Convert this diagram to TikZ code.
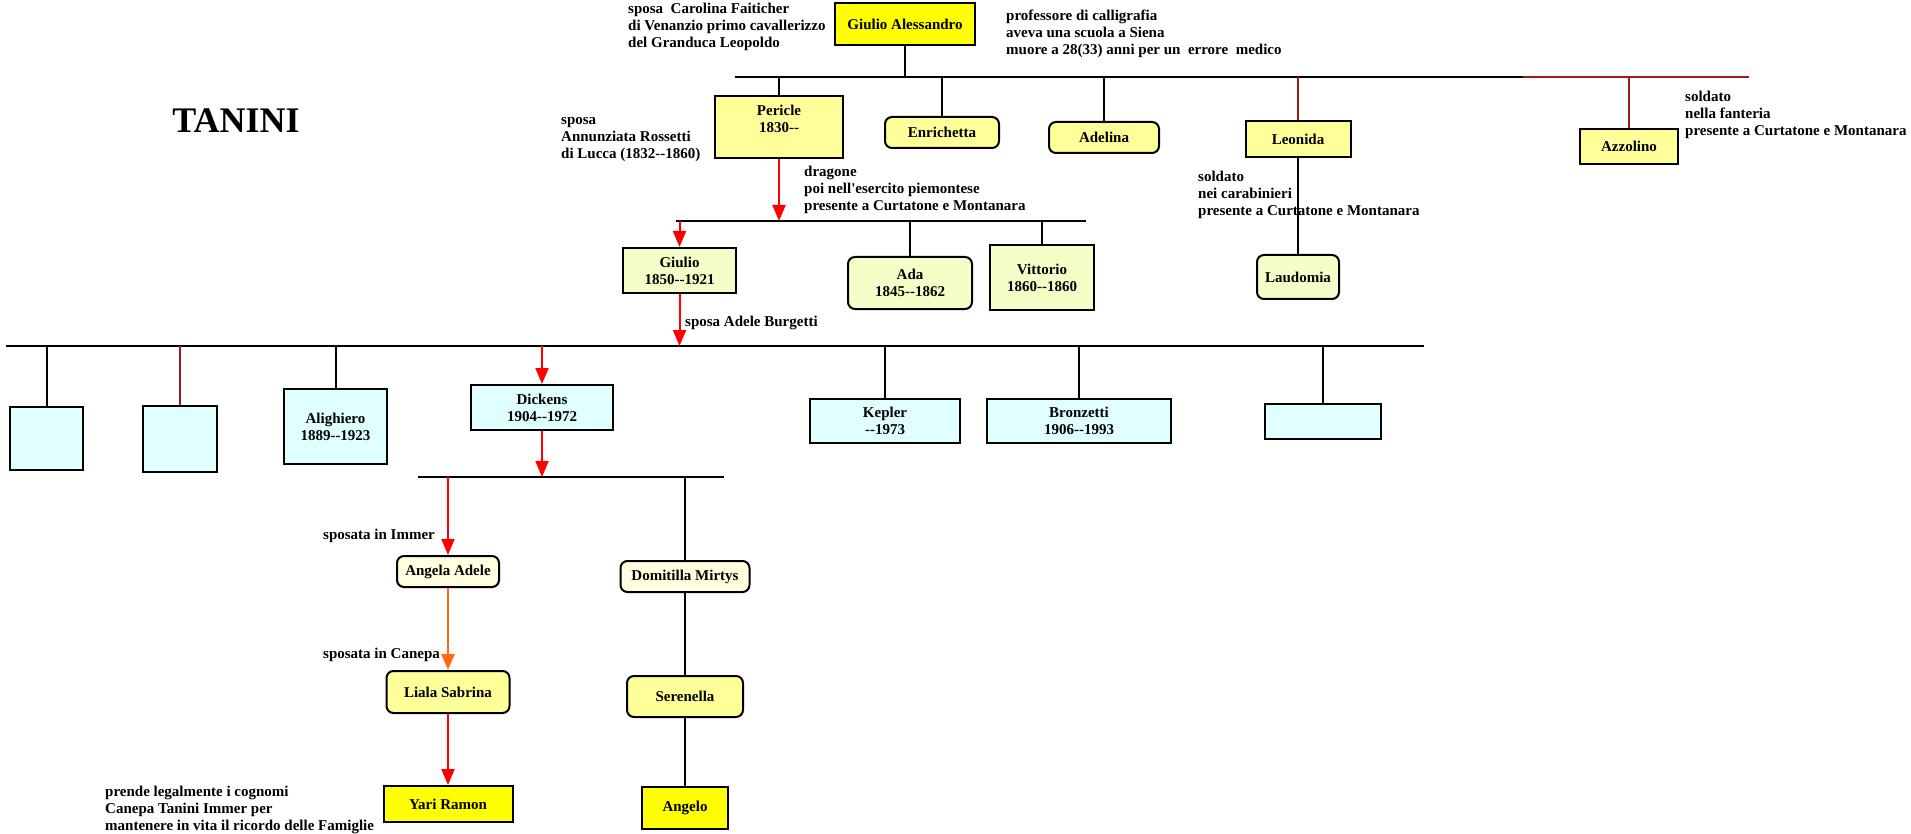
\documentclass[tikz,border=0pt]{standalone}
\usepackage{fontspec}
\setmainfont{Liberation Serif}
\usepackage{tikz}
\usetikzlibrary{arrows.meta, positioning}

\definecolor{gold}{HTML}{FFFF00}
\definecolor{cream}{HTML}{FFFF99}
\definecolor{lime}{HTML}{F4FFC8}
\definecolor{paleivory}{HTML}{FFFFE0}
\definecolor{aqua}{HTML}{E0FFFF}
\definecolor{bloodred}{HTML}{9B1B1B}
\definecolor{carrot}{HTML}{FF6A10}

\newcommand{\hh}{\mbox{-}\mbox{-}}

\tikzstyle{person} = [rectangle, draw=black, line width=2pt, inner sep=0pt, align=center, font=\fontsize{15}{17}\selectfont\bfseries]
\tikzstyle{roundperson} = [person, rounded corners=7pt]
\tikzstyle{note} = [anchor=west, align=left, inner sep=0pt, font=\fontsize{15}{17}\selectfont\bfseries]
\tikzstyle{link} = [line width=2pt]
\tikzstyle{redlink} = [line width=2pt, draw=bloodred]
\tikzstyle{arrow} = [line width=2pt, draw=red, fill=red, -{Triangle[width=13pt,length=16pt]}]

\begin{document}
\begin{tikzpicture}[x=1pt, y=-1pt]
\useasboundingbox [fill=white] (0,0) rectangle (1911,834);

% Title
\node (title) [font=\fontsize{36}{40}\selectfont\bfseries] at (236,121) {TANINI};

% Nodes
\node (giulioa) [person, fill=gold, minimum width=140, minimum height=42] at (905,24) {Giulio Alessandro};

\node (pericle) [person, fill=cream, minimum width=128, minimum height=62, text depth=17] at (779,127) {Pericle\\ 1830\hh};
\node (enrichetta) [roundperson, fill=cream, minimum width=114, minimum height=31] at (942,132.5) {Enrichetta};
\node (adelina) [roundperson, fill=cream, minimum width=110, minimum height=31] at (1104,137.5) {Adelina};
\node (leonida) [person, fill=cream, minimum width=105, minimum height=36] at (1298,139) {Leonida};
\node (azzolino) [person, fill=cream, minimum width=98, minimum height=35] at (1629,146.5) {Azzolino};

\node (giulio) [person, fill=lime, minimum width=113, minimum height=45] at (679.5,270.5) {Giulio\\ 1850\hh1921};
\node (ada) [roundperson, fill=lime, minimum width=124, minimum height=52] at (910,283) {Ada\\ 1845\hh1862};
\node (vittorio) [person, fill=lime, minimum width=104, minimum height=65] at (1042,277.5) {Vittorio\\ 1860\hh1860};
\node (laudomia) [roundperson, fill=lime, minimum width=82, minimum height=44] at (1298,277) {Laudomia};

\node (nonamea) [person, fill=aqua, minimum width=73, minimum height=63] at (46.5,438.5) {};
\node (nonameb) [person, fill=aqua, minimum width=74, minimum height=66] at (180,439) {};
\node (alighiero) [person, fill=aqua, minimum width=103, minimum height=75] at (335.5,426.5) {Alighiero\\ 1889\hh1923};
\node (dickens) [person, fill=aqua, minimum width=142, minimum height=45] at (542,407.5) {Dickens\\ 1904\hh1972};
\node (kepler) [person, fill=aqua, minimum width=150, minimum height=44] at (885,421) {Kepler\\ \hh1973};
\node (bronzetti) [person, fill=aqua, minimum width=184, minimum height=44] at (1079,421) {Bronzetti\\ 1906\hh1993};
\node (nonamec) [person, fill=aqua, minimum width=116, minimum height=35] at (1323,421.5) {};

\node (angela) [roundperson, fill=paleivory, minimum width=102, minimum height=31] at (448,571.5) {Angela Adele};
\node (domitilla) [roundperson, fill=paleivory, minimum width=129, minimum height=31] at (685,576.5) {Domitilla Mirtys};
\node (liala) [roundperson, fill=cream, minimum width=123, minimum height=42] at (448,692) {Liala Sabrina};
\node (serenella) [roundperson, fill=cream, minimum width=116, minimum height=41] at (685,696.5) {Serenella};
\node (yari) [person, fill=gold, minimum width=129, minimum height=36] at (448,804) {Yari Ramon};
\node (angelo) [person, fill=gold, minimum width=86, minimum height=42] at (685,808) {Angelo};

% Notes
\node (notecarolina) [note] at (628,27) {sposa\ \ Carolina Faiticher\\ di Venanzio primo cavallerizzo\\ del Granduca Leopoldo};
\node (noteprof) [note] at (1006,34) {professore di calligrafia\\ aveva una scuola a Siena\\ muore a 28(33) anni per un\ \ errore\ \ medico};
\node (noteazzolino) [note] at (1685,115) {soldato\\ nella fanteria\\ presente a Curtatone e Montanara};
\node (noteannunziata) [note] at (561,140) {sposa\\ Annunziata Rossetti\\ di Lucca (1832\hh1860)};
\node (notedragone) [note] at (804,190) {dragone\\ poi nell\textquotesingle esercito piemontese\\ presente a Curtatone e Montanara};
\node (noteleonida) [note] at (1198,195) {soldato\\ nei carabinieri\\ presente a Curtatone e Montanara};
\node (noteadele) [note] at (685,323) {sposa Adele Burgetti};
\node (noteimmer) [note] at (323,536) {sposata in Immer};
\node (notecanepa) [note] at (323,655) {sposata in Canepa};
\node (noteyari) [note] at (105,810) {prende legalmente i cognomi\\ Canepa Tanini Immer per\\ mantenere in vita il ricordo delle Famiglie};

% Bus lines
\coordinate (busal) at (735,77);
\coordinate (busam) at (1523,77);
\coordinate (busar) at (1749,77);
\coordinate (busbl) at (676,221);
\coordinate (busbr) at (1086,221);
\coordinate (buscl) at (6,346);
\coordinate (buscr) at (1424,346);
\coordinate (busdl) at (418,477);
\coordinate (busdr) at (724,477);

\draw [link] (busal) -- (busam);
\draw [redlink] (busam) -- (busar);
\draw [link] (busbl) -- (busbr);
\draw [link] (buscl) -- (buscr);
\draw [link] (busdl) -- (busdr);

% Connectors
\draw [link] (giulioa) -- (giulioa |- busal);
\draw [link] (pericle) -- (pericle |- busal);
\draw [link] (enrichetta) -- (enrichetta |- busal);
\draw [link] (adelina) -- (adelina |- busal);
\draw [redlink] (leonida.north) -- (leonida.north |- busal);
\draw [redlink] (azzolino.north) -- (azzolino.north |- busal);
\draw [link] (leonida) -- (laudomia);

\draw [arrow] (pericle) -- (pericle |- busbl);
\draw [arrow] (giulio.north |- busbl) -- (giulio);
\draw [link] (ada) -- (ada |- busbl);
\draw [link] (vittorio) -- (vittorio |- busbl);

\draw [arrow] (giulio) -- (giulio |- buscl);
\draw [link] (nonamea) -- (nonamea |- buscl);
\draw [redlink] (nonameb.north) -- (nonameb.north |- buscl);
\draw [link] (alighiero) -- (alighiero |- buscl);
\draw [arrow] (dickens.north |- buscl) -- (dickens);
\draw [link] (kepler) -- (kepler |- buscl);
\draw [link] (bronzetti) -- (bronzetti |- buscl);
\draw [link] (nonamec) -- (nonamec |- buscl);

\draw [arrow] (dickens) -- (dickens |- busdl);
\draw [arrow] (angela.north |- busdl) -- (angela);
\draw [link] (domitilla) -- (domitilla |- busdl);
\draw [arrow, draw=carrot, fill=carrot] (angela) -- (liala);
\draw [arrow] (liala) -- (yari);
\draw [link] (domitilla) -- (serenella);
\draw [link] (serenella) -- (angelo);

\end{tikzpicture}
\end{document}
